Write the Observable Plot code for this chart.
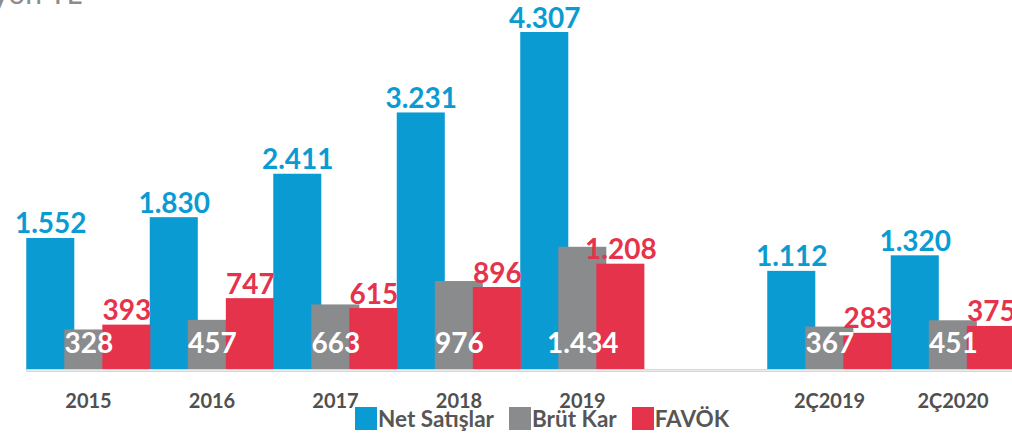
<!DOCTYPE html>
<html>
<head>
<meta charset="utf-8">
<script src="https://cdn.jsdelivr.net/npm/d3@7"></script>
<script src="https://cdn.jsdelivr.net/npm/@observablehq/plot@0.6"></script>
<style>
  html, body { margin: 0; padding: 0; background: #fff; }
  #wrap { position: relative; width: 1012px; height: 435px; overflow: hidden; font-family: Lato, "Open Sans", sans-serif; }
  #title { position: absolute; right: calc(1012px - 82px); top: -23px; font-size: 30px; color: #8c8c8c; white-space: nowrap; line-height: 1; }
  #legend { position: absolute; left: 355px; top: 407px; display: flex; align-items: center; font-weight: bold; font-size: 22.5px; color: #565656; line-height: 23px; }
  #legend .sw { width: 22px; height: 23px; margin-right: 1px; }
  #legend .item { display: flex; align-items: center; margin-right: 15px; }
</style>
</head>
<body>
<div id="wrap">
  <div id="chart"></div>
  <div id="title">Milyon TL</div>
  <div id="legend"></div>
</div>
<script>
// ---- data ----
const periods = ["2015", "2016", "2017", "2018", "2019", "2Ç2019", "2Ç2020"];
const slotDomain = ["2015", "2016", "2017", "2018", "2019", "", "2Ç2019", "2Ç2020"];
const seriesNames = ["Net Satışlar", "Brüt Kar", "FAVÖK"];
const netSatislar = [1552, 1830, 2411, 3231, 4307, 1112, 1320];
const brutKar = [328, 457, 663, 976, 1434, 367, 451];
const favok = [393, 747, 615, 896, 1208, 283, 375];
const colors = ["#0b9bd3", "#8a8b8d", "#e6334c"];
const axisMin = -214; // value axis minimum (bars rise from here)

const seriesValues = [netSatislar, brutKar, favok];
const fmt = v => d3.format(",")(v).replace(/,/g, ".");

const step = 0.308, barW = 0.389;
const rows = [];
periods.forEach((p, i) => {
  const s = slotDomain.indexOf(p);
  seriesNames.forEach((name, j) => {
    const x1 = s - 0.5 + j * step;
    rows.push({period: p, series: name, j, value: seriesValues[j][i], x1, x2: x1 + barW, xc: x1 + barW / 2, center: s});
  });
});
const blue = rows.filter(d => d.j === 0);
const gray = rows.filter(d => d.j === 1);
const red = rows.filter(d => d.j === 2);
const centers = periods.map(p => ({period: p, s: slotDomain.indexOf(p)}));

const W = 1012, H = 435;
const chart = Plot.plot({
  width: W,
  height: H,
  marginLeft: 0, marginRight: 0, marginTop: 0, marginBottom: 0,
  style: {fontFamily: "Lato, 'Open Sans', sans-serif", background: "transparent"},
  x: {type: "linear", domain: [-0.7126, 7.4818], range: [0, W], axis: null},
  y: {domain: [axisMin, d3.max(netSatislar)], range: [370, 32], axis: null},
  color: {domain: seriesNames, range: colors},
  marks: [
    Plot.rectY(blue, {x1: "x1", x2: "x2", y1: axisMin, y2: "value", fill: colors[0]}),
    Plot.rectY(gray, {x1: "x1", x2: "x2", y1: axisMin, y2: "value", fill: colors[1]}),
    Plot.rectY(red, {x1: "x1", x2: "x2", y1: axisMin, y2: "value", fill: colors[2]}),
    Plot.ruleY([axisMin], {x1: blue[0].x1, x2: 7.6, stroke: "#d6d6d6", strokeWidth: 3}),
    Plot.ruleY([axisMin], {x1: blue[0].x1, x2: 7.6, stroke: "#ececec", strokeWidth: 1}),
    Plot.text(blue, {x: "xc", y: "value", text: d => fmt(d.value), fill: colors[0], fontSize: 28, fontWeight: "bold", lineAnchor: "bottom", dy: -5}),
    Plot.text(red, {x: "xc", y: "value", text: d => fmt(d.value), fill: colors[2], fontSize: 28, fontWeight: "bold", lineAnchor: "bottom", dy: -5}),
    Plot.text(gray, {x: "xc", y: axisMin, text: d => fmt(d.value), fill: "#ffffff", fontSize: 28, fontWeight: "bold", lineAnchor: "bottom", dy: -18}),
    Plot.text(centers, {x: "s", y: axisMin, text: "period", fill: "#505050", fontSize: 20, fontWeight: "bold", lineAnchor: "middle", dy: 31})
  ]
});
document.getElementById("chart").appendChild(chart);

const legend = document.getElementById("legend");
seriesNames.forEach((name, j) => {
  const item = document.createElement("div");
  item.className = "item";
  const sw = document.createElement("div");
  sw.className = "sw";
  sw.style.background = colors[j];
  const t = document.createElement("span");
  t.textContent = name;
  item.appendChild(sw);
  item.appendChild(t);
  legend.appendChild(item);
});
</script>
</body>
</html>
